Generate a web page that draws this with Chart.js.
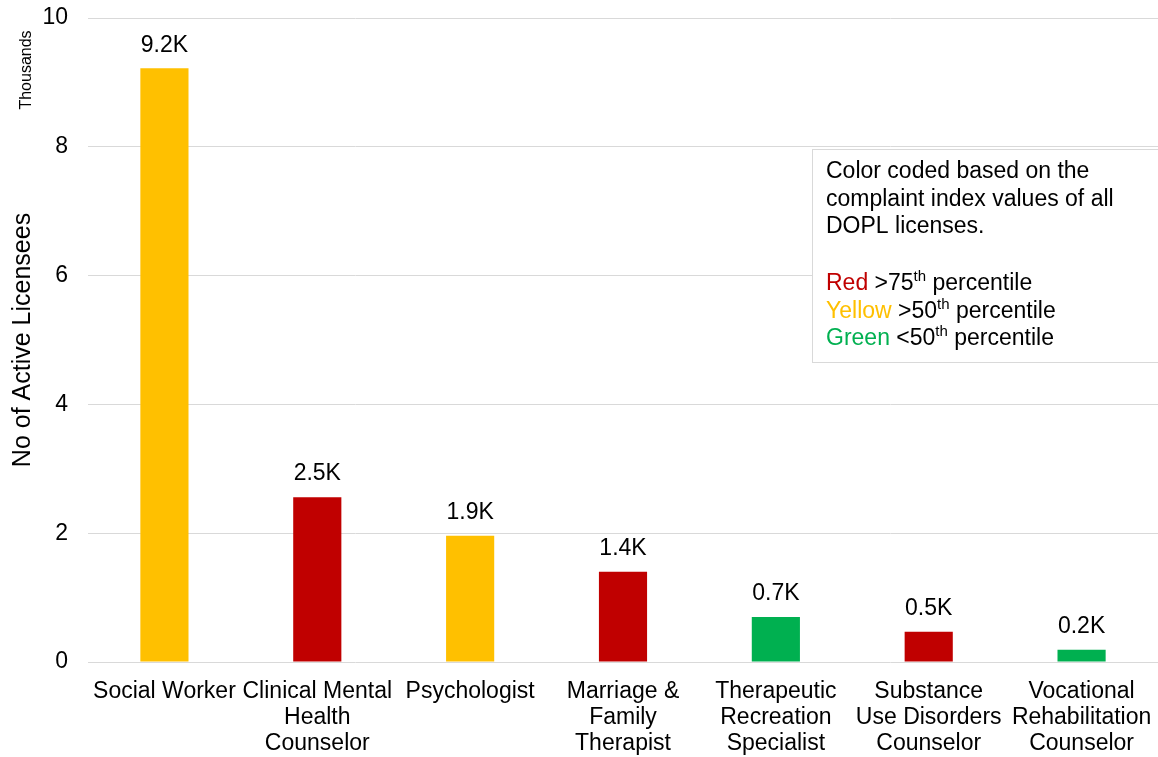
<!DOCTYPE html>
<html>
<head>
<meta charset="utf-8">
<script src="https://cdn.jsdelivr.net/npm/chart.js@4.4.1/dist/chart.umd.min.js"></script>
<style>
html,body{margin:0;padding:0;background:#fff;}
#wrap{width:1158px;height:757px;position:relative;}
</style>
</head>
<body>
<div id="wrap"><canvas id="c" width="1158" height="757"></canvas></div>
<script>
const categories = [
  ["Social Worker"],
  ["Clinical Mental","Health","Counselor"],
  ["Psychologist"],
  ["Marriage &","Family","Therapist"],
  ["Therapeutic","Recreation","Specialist"],
  ["Substance","Use Disorders","Counselor"],
  ["Vocational","Rehabilitation","Counselor"]
];
const licensees = [9.22, 2.56, 1.96, 1.40, 0.70, 0.47, 0.19];
const valueLabels = ["9.2K","2.5K","1.9K","1.4K","0.7K","0.5K","0.2K"];
const colorGroups = ["Yellow","Red","Yellow","Red","Green","Red","Green"];
const yTicks = [0,2,4,6,8,10];
const noteLines = ["Color coded based on the","complaint index values of all","DOPL licenses."];
const keyRows = [["Red","75"],["Yellow","50"],["Green","50"]];
const keyOps = [">",">","<"];

const palette = {Red:"#C00000", Yellow:"#FFC000", Green:"#00B050"};
const FONT = "'Liberation Sans', Arial, sans-serif";

const overlay = {
  id:"overlay",
  afterDatasetsDraw(chart){
    const ctx = chart.ctx;
    const meta = chart.getDatasetMeta(0);
    ctx.save();
    ctx.fillStyle = "#000";
    ctx.font = "23px " + FONT;
    ctx.textAlign = "center";
    ctx.textBaseline = "middle";
    meta.data.forEach((bar,i)=>{
      ctx.fillText(valueLabels[i], bar.x, bar.y - 23);
    });
    // Thousands
    ctx.save();
    ctx.translate(27, 70);
    ctx.rotate(-Math.PI/2);
    ctx.font = "16px " + FONT;
    ctx.fillStyle = "#000";
    ctx.textAlign = "center";
    ctx.textBaseline = "middle";
    ctx.fillText("Thousands", 0, 0);
    ctx.restore();
    // note box
    const bx = 812.5, by = 149.5, bw = 360, bh = 213;
    ctx.fillStyle = "#fff";
    ctx.fillRect(bx, by, bw, bh);
    ctx.strokeStyle = "#d9d9d9";
    ctx.lineWidth = 1;
    ctx.strokeRect(bx, by, bw, bh);
    ctx.textAlign = "left";
    ctx.textBaseline = "middle";
    ctx.font = "23px " + FONT;
    ctx.fillStyle = "#000";
    const tx = 826;
    const lineYs = [172, 200, 227];
    noteLines.forEach((t,i)=>ctx.fillText(t, tx, lineYs[i]));
    const rowYs = [284, 312, 339];
    keyRows.forEach((r,i)=>{
      let x = tx;
      ctx.font = "23px " + FONT;
      ctx.fillStyle = palette[r[0]];
      ctx.fillText(r[0], x, rowYs[i]);
      x += ctx.measureText(r[0] + " ").width;
      ctx.fillStyle = "#000";
      const s1 = keyOps[i] + r[1];
      ctx.fillText(s1, x, rowYs[i]);
      x += ctx.measureText(s1).width;
      ctx.font = "15px " + FONT;
      ctx.fillText("th", x, rowYs[i] - 7);
      x += ctx.measureText("th").width;
      ctx.font = "23px " + FONT;
      ctx.fillText(" percentile", x, rowYs[i]);
    });
    ctx.restore();
  }
};

new Chart(document.getElementById("c"), {
  type: "bar",
  data: {
    labels: categories,
    datasets: [{
      data: licensees,
      backgroundColor: colorGroups.map(g=>palette[g]),
      borderWidth: 0,
      categoryPercentage: 1,
      barPercentage: 0.315
    }]
  },
  options: {
    responsive: false,
    animation: false,
    events: [],
    layout: {padding: {top: 18, right: 0, left: 0, bottom: 0}},
    plugins: {legend:{display:false}, tooltip:{enabled:false}},
    scales: {
      x: {
        grid: {display:false},
        border: {display:false},
        ticks: {
          color:"#000", font:{family:FONT, size:23, lineHeight:1.15},
          maxRotation:0, minRotation:0, autoSkip:false, padding:8
        },
        afterFit(scale){ scale.height = 95; scale.paddingLeft = 0; scale.paddingRight = 0; }
      },
      y: {
        min: 0, max: 10,
        afterBuildTicks(scale){ scale.ticks = yTicks.map(v=>({value:v})); },
        grid: {color:"#d9d9d9", drawTicks:false, lineWidth:1},
        border: {display:false},
        ticks: {color:"#000", font:{family:FONT, size:23}, padding:20},
        title: {display:true, text:"No of Active Licensees", color:"#000",
                font:{family:FONT, size:25}, padding:{top:8,bottom:0}},
        afterFit(scale){ scale.width = 88; scale.paddingTop = 0; scale.paddingBottom = 0; }
      }
    }
  },
  plugins: [overlay]
});
</script>
</body>
</html>
